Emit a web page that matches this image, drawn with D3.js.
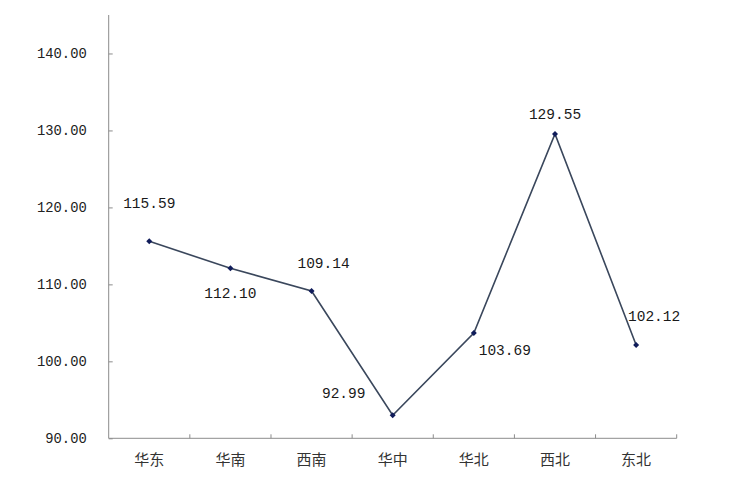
<!DOCTYPE html>
<html><head><meta charset="utf-8">
<script src="https://cdn.jsdelivr.net/npm/d3@7"></script>
<style>body{margin:0;background:#fff}</style>
</head><body>
<svg id="c" width="732" height="485"></svg>
<script>
const categories = ["华东","华南","西南","华中","华北","西北","东北"];
const values = [115.59,112.10,109.14,92.99,103.69,129.55,102.12];
const yTicks = [90,100,110,120,130,140];
// label offsets (dx, dy) relative to point
const labelOffsets = [[0,-33],[0,30],[12,-23],[-49,-17],[31,22],[0,-15],[18,-24]];

const svg = d3.select("#c");
const L = 108.7, R = 676.7, T = 15, B = 438.3;
const x = d3.scaleBand().domain(categories).range([L, R]);
const y = d3.scaleLinear().domain([90,145]).range([B, T]);
const axisColor = "#8c8c8c";

// y axis
const ya = svg.append("g").attr("transform",`translate(${L},0)`)
  .call(d3.axisLeft(y).tickValues(yTicks).tickSize(-4).tickPadding(22).tickFormat(d3.format(".2f")));
ya.select(".domain").attr("stroke",axisColor).attr("d",`M0,${B}V${T}`);
ya.selectAll(".tick line").attr("stroke",axisColor);
ya.selectAll(".tick text").attr("font-family","'Liberation Mono', monospace").attr("font-size","13.8px").attr("fill","#222");

// x axis
const xa = svg.append("g").attr("transform",`translate(0,${B})`);
xa.append("line").attr("x1",L).attr("x2",R).attr("y1",0).attr("y2",0).attr("stroke",axisColor);
const bounds = categories.map(c => x(c) + x.bandwidth());
xa.selectAll("line.t").data(bounds).join("line").attr("class","t")
  .attr("x1",d=>d).attr("x2",d=>d).attr("y1",0).attr("y2",-4).attr("stroke",axisColor);
xa.selectAll("text").data(categories).join("text")
  .attr("x",d=>x(d)+x.bandwidth()/2).attr("y",27)
  .attr("text-anchor","middle")
  .attr("font-family","'Noto Sans CJK SC', sans-serif").attr("font-size","15px").attr("fill","#333")
  .text(d=>d);

const pts = categories.map((c,i)=>({c, v: values[i], i}));
const cx = d => x(d.c) + x.bandwidth()/2;

svg.append("path").datum(pts)
  .attr("d", d3.line().x(cx).y(d=>y(d.v)))
  .attr("fill","none").attr("stroke","#3a475c").attr("stroke-width",1.6);

svg.selectAll("path.m").data(pts).join("path").attr("class","m")
  .attr("transform",d=>`translate(${cx(d)},${y(d.v)})`)
  .attr("d","M0,-3L3,0L0,3L-3,0Z").attr("fill","#101c5a");

svg.selectAll("text.lbl").data(pts).join("text").attr("class","lbl")
  .attr("x",d=>cx(d)+labelOffsets[d.i][0]).attr("y",d=>y(d.v)+labelOffsets[d.i][1])
  .attr("text-anchor","middle")
  .attr("font-family","'Liberation Mono', monospace").attr("font-size","14.5px").attr("fill","#1a1a1a")
  .text(d=>d3.format(".2f")(d.v));
</script>
</body></html>
